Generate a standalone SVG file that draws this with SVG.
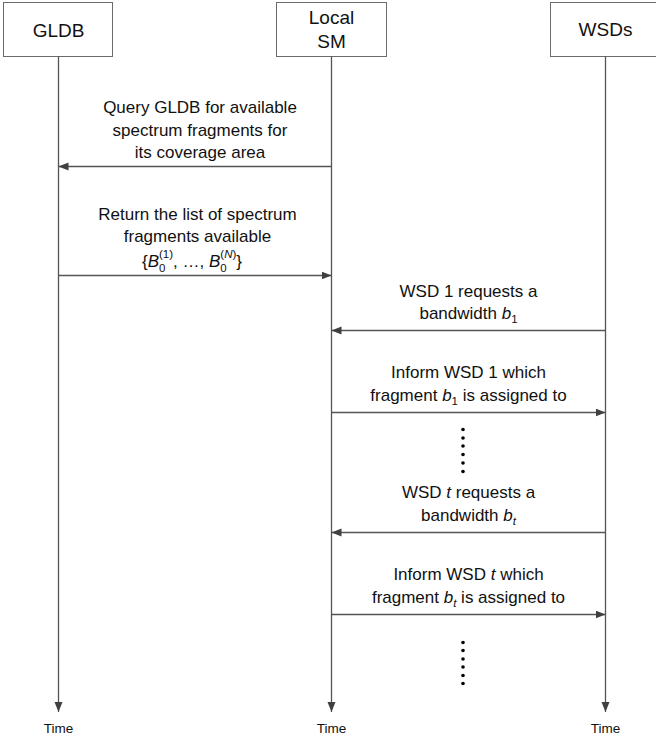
<svg xmlns="http://www.w3.org/2000/svg" width="656" height="742" viewBox="0 0 656 742">
<style>
text{font-family:"Liberation Sans",Arial,sans-serif;fill:#111;}
.hdr{font-size:19px;text-anchor:middle;}
.msg{font-size:17px;text-anchor:middle;}
.time{font-size:13.5px;text-anchor:middle;}
.box{fill:#fff;stroke:#6b6b6b;stroke-width:1;}
.life{stroke:#555;stroke-width:1.3;fill:none;}
.arr{stroke:#555;stroke-width:1.3;fill:none;}
.i{font-style:italic;}
.s{font-size:11.5px;}
</style>
<defs>
<marker id="ah" markerUnits="userSpaceOnUse" markerWidth="11" markerHeight="9" refX="10" refY="4" orient="auto">
<path d="M0,0 L10,4 L0,8 z" fill="#404040"/>
</marker>
</defs>
<g id="node-gldb">
<rect class="box" x="3.5" y="2.5" width="109" height="54"/>
<text class="hdr" x="58.5" y="36.5">GLDB</text>
<text class="time" x="58.5" y="733">Time</text>
</g>
<g id="node-localsm">
<rect class="box" x="276.5" y="2.5" width="110" height="54"/>
<text class="hdr" x="331.5" y="23.5">Local</text>
<text class="hdr" x="331.5" y="47.5">SM</text>
<text class="time" x="331.5" y="733">Time</text>
</g>
<g id="node-wsds">
<rect class="box" x="550.5" y="2.5" width="110" height="54"/>
<text class="hdr" x="605.5" y="36">WSDs</text>
<text class="time" x="605.5" y="733">Time</text>
</g>
<g id="connectors">
<line class="life" x1="58.5" y1="56.5" x2="58.5" y2="712" marker-end="url(#ah)"/>
<line class="life" x1="331.5" y1="56.5" x2="331.5" y2="712" marker-end="url(#ah)"/>
<line class="life" x1="605.5" y1="56.5" x2="605.5" y2="712" marker-end="url(#ah)"/>
<line class="arr" x1="331.5" y1="166.5" x2="58.5" y2="166.5" marker-end="url(#ah)"/>
<line class="arr" x1="58.5" y1="275.5" x2="331.5" y2="275.5" marker-end="url(#ah)"/>
<line class="arr" x1="605.5" y1="330.5" x2="331.5" y2="330.5" marker-end="url(#ah)"/>
<line class="arr" x1="331.5" y1="412.5" x2="605.5" y2="412.5" marker-end="url(#ah)"/>
<line class="arr" x1="605.5" y1="532.5" x2="331.5" y2="532.5" marker-end="url(#ah)"/>
<line class="arr" x1="331.5" y1="614.5" x2="605.5" y2="614.5" marker-end="url(#ah)"/>
</g>
<g id="labels">
<text class="msg" x="200" y="113">Query GLDB for available</text>
<text class="msg" x="200" y="136">spectrum fragments for</text>
<text class="msg" x="200" y="158">its coverage area</text>
<text class="msg" x="197.5" y="220">Return the list of spectrum</text>
<text class="msg" x="197.5" y="242">fragments available</text>
<text class="msg" x="192" y="267">{<tspan class="i">B</tspan><tspan class="s" dy="5">0</tspan><tspan class="s" dx="-6.4" dy="-14">(1)</tspan><tspan dy="9">, …, </tspan><tspan class="i">B</tspan><tspan class="s" dy="5">0</tspan><tspan class="s" dx="-6.4" dy="-14">(</tspan><tspan class="s i">N</tspan><tspan class="s">)</tspan><tspan dy="9">}</tspan></text>
<text class="msg" x="468.5" y="297">WSD 1 requests a</text>
<text class="msg" x="468.5" y="319">bandwidth <tspan class="i">b</tspan><tspan class="s" dy="4">1</tspan></text>
<text class="msg" x="468.5" y="378">Inform WSD 1 which</text>
<text class="msg" x="468.5" y="401">fragment <tspan class="i">b</tspan><tspan class="s" dy="4">1</tspan><tspan dy="-4"> is assigned to</tspan></text>
<text class="msg" x="468.5" y="498">WSD <tspan class="i">t</tspan> requests a</text>
<text class="msg" x="468.5" y="520.5">bandwidth <tspan class="i">b</tspan><tspan class="s i" dy="4">t</tspan></text>
<text class="msg" x="468.5" y="580">Inform WSD <tspan class="i">t</tspan> which</text>
<text class="msg" x="468.5" y="603">fragment <tspan class="i">b</tspan><tspan class="s i" dy="4">t</tspan><tspan dy="-4"> is assigned to</tspan></text>
</g>
<g id="dots" fill="#000">
<circle cx="463" cy="429.5" r="1.8"/><circle cx="463" cy="438" r="1.8"/><circle cx="463" cy="446" r="1.8"/><circle cx="463" cy="454.5" r="1.8"/><circle cx="463" cy="463" r="1.8"/><circle cx="463" cy="471.5" r="1.8"/>
<circle cx="463" cy="642.5" r="1.8"/><circle cx="463" cy="650.5" r="1.8"/><circle cx="463" cy="659" r="1.8"/><circle cx="463" cy="667" r="1.8"/><circle cx="463" cy="675.5" r="1.8"/><circle cx="463" cy="683.5" r="1.8"/>
</g>
</svg>
